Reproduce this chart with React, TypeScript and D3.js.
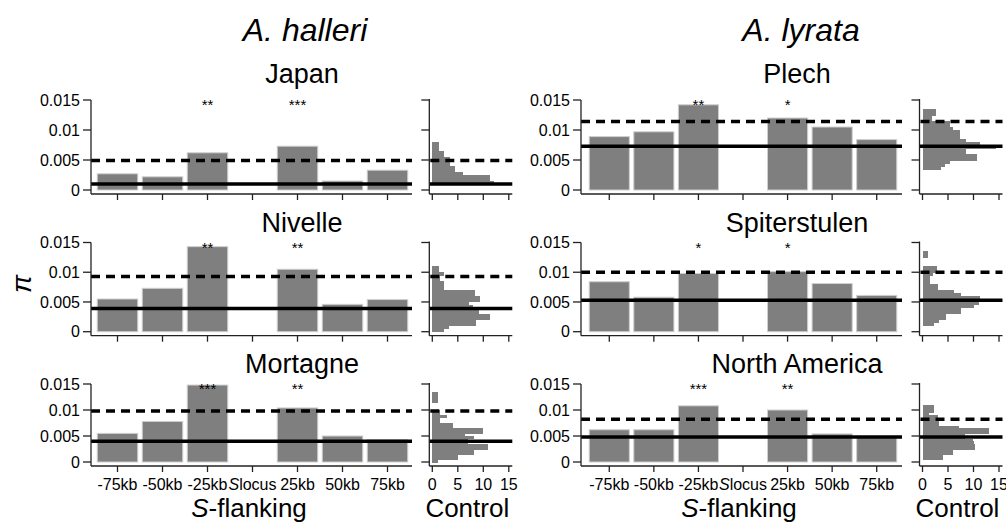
import React from "react";
import * as d3 from "d3";

const categories = ["-75kb", "-50kb", "-25kb", "Slocus", "25kb", "50kb", "75kb"];
const species = ["A. halleri", "A. lyrata"];
const populations = ["Japan", "Nivelle", "Mortagne", "Plech", "Spiterstulen", "North America"];

// nucleotide diversity in S-flanking windows (null = S locus)
const japanPi = [0.0027, 0.0022, 0.0062, null, 0.0073, 0.0015, 0.0033];
const nivellePi = [0.0055, 0.0073, 0.0143, null, 0.0105, 0.0046, 0.0054];
const mortagnePi = [0.0055, 0.0078, 0.0148, null, 0.0104, 0.005, 0.0043];
const plechPi = [0.0089, 0.0097, 0.0142, null, 0.012, 0.0105, 0.0084];
const spiterstulenPi = [0.0084, 0.0058, 0.0098, null, 0.0101, 0.0081, 0.0061];
const northAmericaPi = [0.0062, 0.0062, 0.0108, null, 0.01, 0.0054, 0.0049];

const japanStars = ["", "", "**", "", "***", "", ""];
const nivelleStars = ["", "", "**", "", "**", "", ""];
const mortagneStars = ["", "", "***", "", "**", "", ""];
const plechStars = ["", "", "**", "", "*", "", ""];
const spiterstulenStars = ["", "", "*", "", "*", "", ""];
const northAmericaStars = ["", "", "***", "", "**", "", ""];

// control regions: mean (solid) and upper quantile (dashed)
const controlMean = [0.001, 0.0039, 0.004, 0.0073, 0.0053, 0.0048];
const controlUpper = [0.0049, 0.0093, 0.0098, 0.0114, 0.01, 0.0082];

// control histograms, bins of 0.0005 starting at histStart
const binWidth = 0.0005;
const histStart = [0.001, 0, 0, 0.0035, 0.001, 0.0005];
const japanHist = [12, 11.3, 11.3, 6.1, 4.4, 4.4, 3.4, 3.4, 3.4, 2.2, 2.2, 1.4, 1.4, 1.4];
const nivelleHist = [2.2, 3.2, 8.5, 8.5, 11.4, 11.4, 9.2, 9.2, 8, 7.1, 9.4, 9.4, 8.3, 8.3, 2.2, 2.2, 2.2, 1.5, 1.5, 2.3, 1.4, 1.4];
const mortagneHist = [1.1, 5, 5, 8.1, 8.1, 11, 11, 7, 7, 8.1, 6.5, 10, 10, 4, 4, 1.5, 1.5, 2.8, 1.5, 1.5, 0, 0, 0, 1.1, 1.1, 1.1, 1.1];
const plechHist = [3.6, 4.5, 5.4, 10.6, 10.6, 8.6, 8.6, 14.4, 11.2, 8.6, 7.3, 7.3, 7.3, 6, 5.4, 5.4, 1.8, 1.8, 2.7, 2.7];
const spiterstulenHist = [2.3, 3.2, 4.7, 4.7, 7.6, 7.6, 10.1, 11, 11.2, 11.2, 7.5, 6.1, 3, 3, 1.5, 1.5, 1.5, 2, 2.9, 2.9, 0, 0, 0, 1.1, 1.1];
const northAmericaHist = [4, 4, 6, 6, 10.2, 10.2, 10, 9.9, 8.3, 8.3, 13, 13, 7.1, 3.2, 3.2, 3, 3, 1.2, 2.3, 2.3, 2.3];

const yTicks = [0, 0.005, 0.01, 0.015];
const countTicks = [0, 5, 10, 15];

const piValues = [japanPi, nivellePi, mortagnePi, plechPi, spiterstulenPi, northAmericaPi];
const stars = [japanStars, nivelleStars, mortagneStars, plechStars, spiterstulenStars, northAmericaStars];
const hists = [japanHist, nivelleHist, mortagneHist, plechHist, spiterstulenHist, northAmericaHist];

const FONT = "'Liberation Sans', Arial, Helvetica, sans-serif";
const AXIS = "#222";
const BAR = "#7f7f7f";

// layout
const colAxis = [91, 581];
const colBand = [[95, 410], [587, 899]];
const colHist = [429.3, 919.5];
const rowTop = [100, 242.5, 384];
const rowZero = [190, 331.7, 462];
const rowTitle = [83, 232, 373];
const titleX = [302, 797];

const Panel = ({ idx }) => {
  const col = Math.floor(idx / 3);
  const row = idx % 3;
  const ax = colAxis[col];
  const hax = colHist[col];
  const axisY = rowZero[row] + 4;
  const bottom = row === 2;

  const x = d3.scaleBand().domain(categories).range(colBand[col]).paddingInner(0.1).paddingOuter(0.05);
  const y = d3.scaleLinear().domain([0, 0.015]).range([rowZero[row], rowTop[row]]);
  const hx = d3.scaleLinear().domain([0, 15]).range([hax + 3, hax + 79.5]);

  const values = piValues[idx];
  const hist = hists[idx];
  const start = histStart[idx];

  return (
    <g>
      <text x={titleX[col]} y={rowTitle[row]} textAnchor="middle" fontSize={27}>
        {populations[idx]}
      </text>

      {/* bars */}
      {categories.map((c, i) =>
        values[i] == null ? null : (
          <rect
            key={c}
            x={x(c)}
            y={y(values[i])}
            width={x.bandwidth()}
            height={y(0) - y(values[i])}
            fill={BAR}
            stroke="#cfcfcf"
            strokeWidth={1}
          />
        )
      )}
      {categories.map((c, i) =>
        stars[idx][i] ? (
          <text key={c} x={x(c) + x.bandwidth() / 2} y={rowTop[row] + 10} textAnchor="middle" fontSize={15}>
            {stars[idx][i]}
          </text>
        ) : null
      )}

      {/* control lines */}
      <line x1={ax} x2={ax + 321} y1={y(controlUpper[idx])} y2={y(controlUpper[idx])} stroke="#000" strokeWidth={3.5} strokeDasharray="9 6" />
      <line x1={ax} x2={ax + 321} y1={y(controlMean[idx])} y2={y(controlMean[idx])} stroke="#000" strokeWidth={3.5} />

      {/* main axes */}
      <line x1={ax} x2={ax} y1={y(0.015)} y2={axisY} stroke={AXIS} strokeWidth={1.3} />
      <line x1={ax} x2={ax + 321} y1={axisY} y2={axisY} stroke={AXIS} strokeWidth={1.3} />
      {yTicks.map((t) => (
        <g key={t}>
          <line x1={ax - 8} x2={ax} y1={y(t)} y2={y(t)} stroke={AXIS} strokeWidth={1.3} />
          <text x={ax - 11} y={y(t)} dy="0.35em" textAnchor="end" fontSize={16}>
            {t}
          </text>
        </g>
      ))}
      {categories.map((c) => {
        const cx = x(c) + x.bandwidth() / 2;
        return (
          <g key={c}>
            <line x1={cx} x2={cx} y1={axisY} y2={axisY + 6} stroke={AXIS} strokeWidth={1.3} />
            {bottom && (
              <text x={cx} y={490} textAnchor="middle" fontSize={16}>
                {c === "Slocus" ? (
                  <>
                    <tspan fontStyle="italic">S</tspan>locus
                  </>
                ) : (
                  c
                )}
              </text>
            )}
          </g>
        );
      })}

      {/* control histogram */}
      <g shapeRendering="crispEdges">
        {hist.map((n, i) =>
          n > 0 ? (
            <rect
              key={i}
              x={hx(0)}
              y={y(start + (i + 1) * binWidth)}
              width={hx(n) - hx(0)}
              height={y(start + i * binWidth) - y(start + (i + 1) * binWidth) + 0.5}
              fill={BAR}
            />
          ) : null
        )}
      </g>
      <line x1={hax + 1} x2={hax + 83} y1={y(controlUpper[idx])} y2={y(controlUpper[idx])} stroke="#000" strokeWidth={3.5} strokeDasharray="9 6" />
      <line x1={hax} x2={hax + 83} y1={y(controlMean[idx])} y2={y(controlMean[idx])} stroke="#000" strokeWidth={3.5} />
      <line x1={hax} x2={hax} y1={y(0.015) - 1} y2={axisY} stroke={AXIS} strokeWidth={1.3} />
      <line x1={hax} x2={hax + 83} y1={axisY} y2={axisY} stroke={AXIS} strokeWidth={1.3} />
      {yTicks.map((t) => (
        <line key={t} x1={hax - 8} x2={hax} y1={y(t)} y2={y(t)} stroke={AXIS} strokeWidth={1.3} />
      ))}
      {countTicks.map((t) => (
        <g key={t}>
          <line x1={hx(t)} x2={hx(t)} y1={axisY} y2={axisY + 6} stroke={AXIS} strokeWidth={1.3} />
          {bottom && (
            <text x={hx(t)} y={490} textAnchor="middle" fontSize={16}>
              {t}
            </text>
          )}
        </g>
      ))}

      {bottom && (
        <>
          <text x={ax + 158} y={517} textAnchor="middle" fontSize={26}>
            <tspan fontStyle="italic">S</tspan>-flanking
          </text>
          <text x={hax + 38} y={517} textAnchor="middle" fontSize={26}>
            Control
          </text>
        </>
      )}
    </g>
  );
};

const App = () => {
  return (
    <svg
      width={1006}
      height={522}
      style={{ position: "absolute", left: 0, top: 0, background: "#fff" }}
      fontFamily={FONT}
      fill="#000"
    >
      <rect width={1006} height={522} fill="#fff" />
      <text x={305} y={41} textAnchor="middle" fontSize={32} fontStyle="italic">
        {species[0]}
      </text>
      <text x={801} y={41} textAnchor="middle" fontSize={32} fontStyle="italic">
        {species[1]}
      </text>
      <text transform="translate(22,284) rotate(-90)" textAnchor="middle" dy="0.35em" fontSize={27} fontStyle="italic">
        π
      </text>
      {populations.map((p, i) => (
        <Panel key={p} idx={i} />
      ))}
    </svg>
  );
};

export default App;
